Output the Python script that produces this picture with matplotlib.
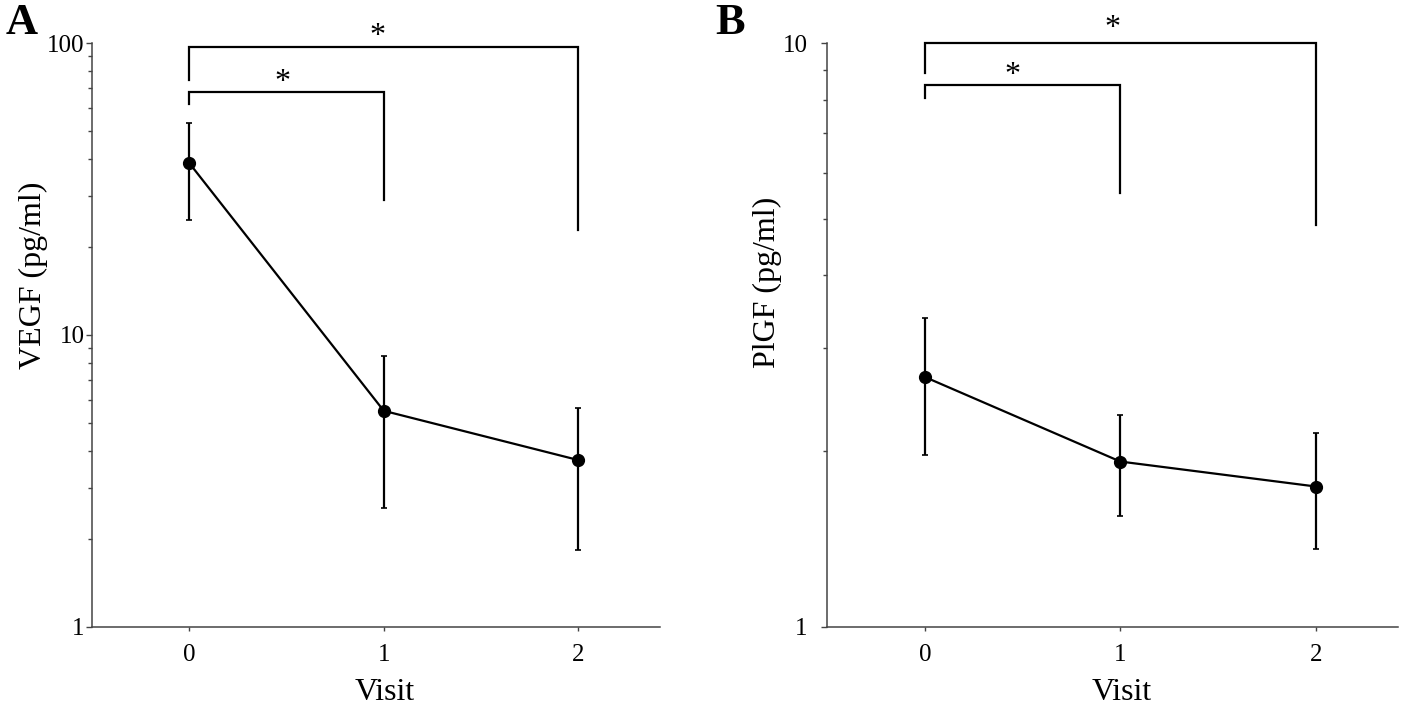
import numpy as np
import matplotlib
matplotlib.use("Agg")
import matplotlib.pyplot as plt
from matplotlib.ticker import NullFormatter

plt.rcParams['font.family'] = ['Liberation Serif', 'DejaVu Serif']

# values
visits = [0, 1, 2]
vegf_mean = [38.8, 5.5, 3.73]
vegf_upper = [53.2, 8.47, 5.62]
vegf_lower = [24.8, 2.56, 1.84]
plgf_mean = [2.68, 1.92, 1.74]
plgf_upper = [3.38, 2.31, 2.15]
plgf_lower = [1.97, 1.55, 1.36]

# significance brackets: (x start, x end, top, left leg end, right leg end)
vegf_brackets = [(0, 2, 96.9, 74.6, 22.9), (0, 1, 67.9, 61.8, 29.0)]
plgf_brackets = [(0, 2, 10.0, 8.89, 4.88), (0, 1, 8.47, 8.05, 5.53)]
vegf_stars = [(0.97, 105.5), (0.48, 73.0)]
plgf_stars = [(0.96, 10.59), (0.45, 8.79)]

fig = plt.figure(figsize=(14.18, 7.04), dpi=100)
axA = fig.add_axes([0.0649, 0.1094, 0.4005, 0.8295])
axB = fig.add_axes([0.5832, 0.1094, 0.4027, 0.8295])

panels = [
    (axA, vegf_mean, vegf_lower, vegf_upper, vegf_brackets, vegf_stars,
     'VEGF (pg/ml)', (1, 100), [1, 10, 100], 'A', 0.603, 1.5, -0.077, -0.153),
    (axB, plgf_mean, plgf_lower, plgf_upper, plgf_brackets, plgf_stars,
     'PlGF (pg/ml)', (1, 10), [1, 10], 'B', 0.59, 10, -0.079, -0.196),
]

for ax, mean, lo, hi, brackets, stars, ylab, ylim, yt, letter, ly, pad, lx, px in panels:
    mean = np.array(mean)
    err = [mean - np.array(lo), np.array(hi) - mean]
    ax.errorbar(visits, mean, yerr=err, color='black', lw=1.6, marker='o',
                markersize=8.5, capsize=2.5, elinewidth=1.6, capthick=1.2,
                clip_on=False, zorder=3)
    for x0, x1, top, l_end, r_end in brackets:
        ax.plot([x0, x0, x1, x1], [l_end, top, top, r_end], color='black',
                lw=1.6, clip_on=False, solid_joinstyle='miter')
    for sx, sy in stars:
        ax.text(sx, sy, '*', ha='center', va='center', fontsize=23)

    ax.set_yscale('log')
    ax.set_ylim(*ylim)
    ax.set_xlim(-0.5, 2.42)
    ax.set_yticks(yt)
    ax.set_yticklabels([str(v) for v in yt])
    ax.yaxis.set_minor_formatter(NullFormatter())
    ax.set_xticks(visits)
    ax.spines['top'].set_visible(False)
    ax.spines['right'].set_visible(False)
    for s in ['left', 'bottom']:
        ax.spines[s].set_color('#444444')
        ax.spines[s].set_linewidth(1.1)
    ax.tick_params(axis='y', which='major', length=4, width=1, color='#444444',
                   labelsize=18, pad=pad)
    ax.tick_params(axis='y', which='minor', length=3, width=1, color='#444444')
    ax.tick_params(axis='x', length=3, width=1, color='#444444',
                   labelsize=18, pad=9)
    ax.set_xlabel('Visit', fontsize=23)
    ax.set_ylabel(ylab, fontsize=23)
    ax.xaxis.set_label_coords(0.516, -0.087)
    ax.yaxis.set_label_coords(lx, ly)
    ax.text(px, 1.035, letter, transform=ax.transAxes, fontsize=32,
            fontweight='bold', ha='left', va='center')

fig.savefig('out.png', dpi=100)
